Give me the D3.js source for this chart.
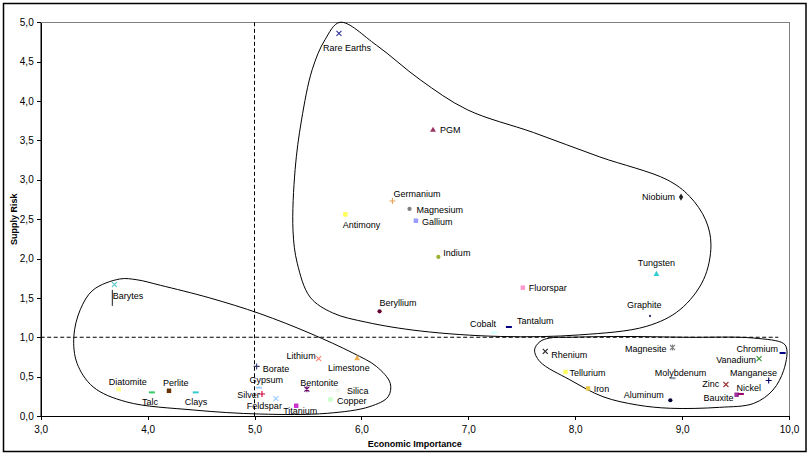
<!DOCTYPE html>
<html>
<head>
<meta charset="utf-8">
<script src="https://cdn.jsdelivr.net/npm/d3@7"></script>
<style>
  body { margin: 0; background: #fff; }
  svg { display: block; font-family: Arial, "Liberation Sans", sans-serif; }
  .axis text { font-size: 10px; fill: #000; }
  .axis path, .axis line { stroke: #000; shape-rendering: crispEdges; }
  .lbl { font-size: 9px; fill: #000; }
  .title { font-size: 9px; font-weight: bold; fill: #000; }
</style>
</head>
<body>
<svg id="chart"></svg>
<script>
// ---- data ----
const minerals = ["Rare Earths","PGM","Germanium","Magnesium","Gallium","Antimony","Indium","Fluorspar",
  "Tungsten","Graphite","Niobium","Cobalt","Tantalum","Beryllium","Barytes","","Lithium","Limestone",
  "Borate","Gypsum","Silver","Feldspar","Titanium","Bentonite","Silica","Copper","Diatomite","Talc",
  "Perlite","Clays","Rhenium","Tellurium","Iron","Aluminum","Magnesite","Molybdenum","Zinc","Nickel",
  "Bauxite","Manganese","Vanadium","Chromium"];
const economicImportance = [5.79,6.67,6.29,6.45,6.51,5.85,6.72,7.51,
  8.76,8.70,8.99,7.24,7.38,6.17,3.69,3.67,5.60,5.96,
  5.02,5.04,5.07,5.20,5.39,5.49,5.78,5.71,3.73,4.04,
  4.20,4.45,7.72,7.91,8.12,8.89,8.91,8.91,9.41,9.51,
  9.55,9.81,9.72,9.94];
const supplyRisk = [4.86,3.63,2.73,2.63,2.48,2.56,2.02,1.63,
  1.80,1.27,2.78,1.06,1.13,1.33,1.67,1.50,0.73,0.73,
  0.63,0.36,0.28,0.22,0.13,0.34,0.33,0.21,0.34,0.30,
  0.32,0.30,0.82,0.56,0.35,0.20,0.87,0.48,0.40,0.27,
  0.28,0.45,0.73,0.80];
const markerTypes = ["x","triangle","plus","circle","square","square","circle","square",
  "triangle","dot","diamond","dash","dash","circle","x","vbar","x","triangle",
  "plus","dash","plus","x","square","star","square","square","square","dash",
  "square","dash","x","square","square","circle","star","dash","x","square",
  "dash","plus","x","dash"];
const markerColors = ["#333399","#993366","#e8a050","#808080","#9999ff","#ffff55","#a0b030","#ff99cc",
  "#33cccc","#333366","#222222","#ccffff","#000080","#660033","#66cccc","#000000","#ff8070","#f0b050",
  "#333366","#99ccff","#cc0033","#99ccff","#cc33cc","#660066","#eef6ee","#ccffcc","#ffff99","#33cc66",
  "#663300","#33cccc","#222222","#ffff66","#e6c84a","#000033","#808080","#8899aa","#993333","#993399",
  "#990066","#000066","#339933","#000080"];

const xTicks = [3,4,5,6,7,8,9,10];
const yTicks = [0,0.5,1,1.5,2,2.5,3,3.5,4,4.5,5];

// hand-drawn cluster outlines, in data units
const outlineCritical = [[5.80,5.00],[6.14,4.71],[6.55,4.27],[6.99,3.89],[7.61,3.60],[8.23,3.29],
  [8.86,3.00],[9.07,2.79],[9.22,2.49],[9.27,2.17],[9.20,1.73],[8.98,1.35],[8.67,1.14],[8.04,1.03],
  [7.30,1.01],[6.55,1.08],[6.05,1.19],[5.73,1.31],[5.52,1.51],[5.40,1.94],[5.36,2.36],[5.38,3.13],
  [5.44,3.76],[5.54,4.40],[5.66,4.78]];
const outlineLow = [[3.74,1.74],[3.49,1.60],[3.37,1.35],[3.31,1.01],[3.34,0.67],[3.49,0.37],[3.80,0.18],
  [4.43,0.076],[5.05,0.025],[5.68,0.034],[6.08,0.12],[6.25,0.245],[6.27,0.415],[6.14,0.63],[5.92,0.80],
  [5.52,1.05],[5.05,1.30],[4.58,1.50],[4.12,1.66],[3.90,1.73]];
const outlineImportant = [[7.67,0.944],[7.62,0.84],[7.67,0.69],[7.95,0.46],[8.26,0.245],[8.58,0.14],
  [8.89,0.098],[9.35,0.11],[9.67,0.16],[9.85,0.33],[9.95,0.58],[9.98,0.84],[9.95,0.92],[9.67,0.99],
  [9.04,1.00],[8.42,1.01],[7.95,1.00],[7.76,0.99]];

// ---- layout ----
const W = 811, H = 457;
const plot = {left: 40.7, top: 22.3, right: 789, bottom: 416};

// label placement relative to the marker: [dx, dy, anchor]
const labelPos = {
  "Rare Earths":[-16,18,"start"], "PGM":[7,3,"start"], "Germanium":[1,-4.5,"start"],
  "Magnesium":[7,4,"start"], "Gallium":[6,4,"start"], "Antimony":[-2.6,14,"start"],
  "Indium":[5,-1,"start"], "Fluorspar":[6,3,"start"], "Tungsten":[-18.7,-8,"start"],
  "Graphite":[-23,-8,"start"], "Niobium":[-6,3,"end"], "Cobalt":[2,-6,"end"],
  "Tantalum":[8,-3,"start"], "Beryllium":[0,-5.4,"start"], "Barytes":[-1.7,14,"start"],
  "Lithium":[-3,0.6,"end"], "Limestone":[-29,12.6,"start"], "Borate":[6,5.5,"start"],
  "Gypsum":[-9.3,-5,"start"], "Silver":[-2.3,4,"end"], "Feldspar":[6,10,"end"],
  "Titanium":[-13,8.5,"start"], "Bentonite":[-6.7,-3.4,"start"], "Silica":[9,4,"start"],
  "Copper":[6.7,5,"start"], "Diatomite":[-10,-4.4,"start"], "Talc":[-10,13,"start"],
  "Perlite":[-6,-5,"start"], "Clays":[-11,13,"start"], "Rhenium":[6,6.5,"start"],
  "Tellurium":[4,4,"start"], "Iron":[5.6,3.5,"start"], "Aluminum":[-6.7,-2,"end"],
  "Magnesite":[-6,4.5,"end"], "Molybdenum":[-17.7,-2.4,"start"], "Zinc":[-6.7,2.5,"end"],
  "Nickel":[0,-3.8,"start"], "Bauxite":[-7.4,7.5,"end"], "Manganese":[8.3,-4.8,"end"],
  "Vanadium":[-3,4,"end"], "Chromium":[-4.6,-1,"end"]
};

const svg = d3.select("#chart").attr("width", W).attr("height", H);

// outer frame
svg.append("rect")
  .attr("x", 3.5).attr("y", 3.5).attr("width", 802.5).attr("height", 448)
  .attr("fill", "none").attr("stroke", "#000").attr("stroke-width", 1.5);

const xScale = d3.scaleLinear().domain([3, 10]).range([plot.left, plot.right]);
const yScale = d3.scaleLinear().domain([0, 5]).range([plot.bottom, plot.top]);
const fmt = d => d3.format(".1f")(d).replace(".", ",");

// plot area border
svg.append("rect")
  .attr("x", plot.left).attr("y", plot.top)
  .attr("width", plot.right - plot.left).attr("height", plot.bottom - plot.top)
  .attr("fill", "none").attr("stroke", "#808080").attr("stroke-width", 1)
  .attr("shape-rendering", "crispEdges");

svg.append("g").attr("class", "axis")
  .attr("transform", `translate(${plot.left},0)`)
  .call(d3.axisLeft(yScale).tickValues(yTicks).tickFormat(fmt).tickSize(4).tickSizeOuter(0).tickPadding(3))
  .call(g => g.selectAll("text").attr("font-family", null).attr("font-size", null));

svg.append("g").attr("class", "axis")
  .attr("transform", `translate(0,${plot.bottom})`)
  .call(d3.axisBottom(xScale).tickValues(xTicks).tickFormat(fmt).tickSize(4).tickSizeOuter(0).tickPadding(6))
  .call(g => g.selectAll("text").attr("font-family", null).attr("font-size", null));

// threshold lines
svg.append("line")
  .attr("x1", xScale(5)).attr("x2", xScale(5)).attr("y1", yScale(5)).attr("y2", yScale(0))
  .attr("stroke", "#000").attr("stroke-dasharray", "4,2.5");
svg.append("line")
  .attr("x1", xScale(3)).attr("x2", xScale(9.9)).attr("y1", yScale(1)).attr("y2", yScale(1))
  .attr("stroke", "#000").attr("stroke-dasharray", "4,2.5");

// outlines
const outline = d3.line()
  .x(d => xScale(d[0])).y(d => yScale(d[1]))
  .curve(d3.curveCatmullRomClosed.alpha(0.5));
[outlineCritical, outlineLow, outlineImportant].forEach(pts => {
  svg.append("path").attr("d", outline(pts))
    .attr("fill", "none").attr("stroke", "#000").attr("stroke-width", 1);
});

// markers
const points = minerals.map((name, i) => ({
  name, x: economicImportance[i], y: supplyRisk[i], type: markerTypes[i], color: markerColors[i]
}));

const filled = {
  square: d3.symbol().type(d3.symbolSquare).size(20),
  triangle: d3.symbol().type(d3.symbolTriangle).size(15),
  circle: d3.symbol().type(d3.symbolCircle).size(14),
  diamond: d3.symbol().type(d3.symbolDiamond).size(16),
  dot: d3.symbol().type(d3.symbolCircle).size(4)
};
const stroked = {
  x: "M-2.5,-2.5L2.5,2.5M-2.5,2.5L2.5,-2.5",
  plus: "M-3,0L3,0M0,-3L0,3",
  star: "M-2.5,-2.5L2.5,2.5M-2.5,2.5L2.5,-2.5M0,-3L0,3",
  dash: "M-3,0L3,0",
  vbar: "M0,-8L0,8"
};

svg.append("g").selectAll("path")
  .data(points)
  .join("path")
    .attr("transform", d => `translate(${xScale(d.x)},${yScale(d.y)})`)
    .attr("d", d => filled[d.type] ? filled[d.type]() : stroked[d.type])
    .attr("fill", d => filled[d.type] ? d.color : "none")
    .attr("stroke", d => filled[d.type] ? "none" : d.color)
    .attr("stroke-width", d => d.type === "dash" ? 2 : (d.type === "vbar" ? 0.9 : 1.1));

// labels
svg.append("g").selectAll("text")
  .data(points.filter(d => d.name !== ""))
  .join("text")
    .attr("class", "lbl")
    .attr("x", d => xScale(d.x) + labelPos[d.name][0])
    .attr("y", d => yScale(d.y) + labelPos[d.name][1])
    .attr("text-anchor", d => labelPos[d.name][2])
    .text(d => d.name);

// axis titles
svg.append("text").attr("class", "title")
  .attr("x", (plot.left + plot.right) / 2).attr("y", 446.5)
  .attr("text-anchor", "middle")
  .text("Economic Importance");
svg.append("text").attr("class", "title")
  .attr("transform", `translate(17,${(plot.top + plot.bottom) / 2}) rotate(-90)`)
  .attr("text-anchor", "middle")
  .text("Supply Risk");
</script>
</body>
</html>
